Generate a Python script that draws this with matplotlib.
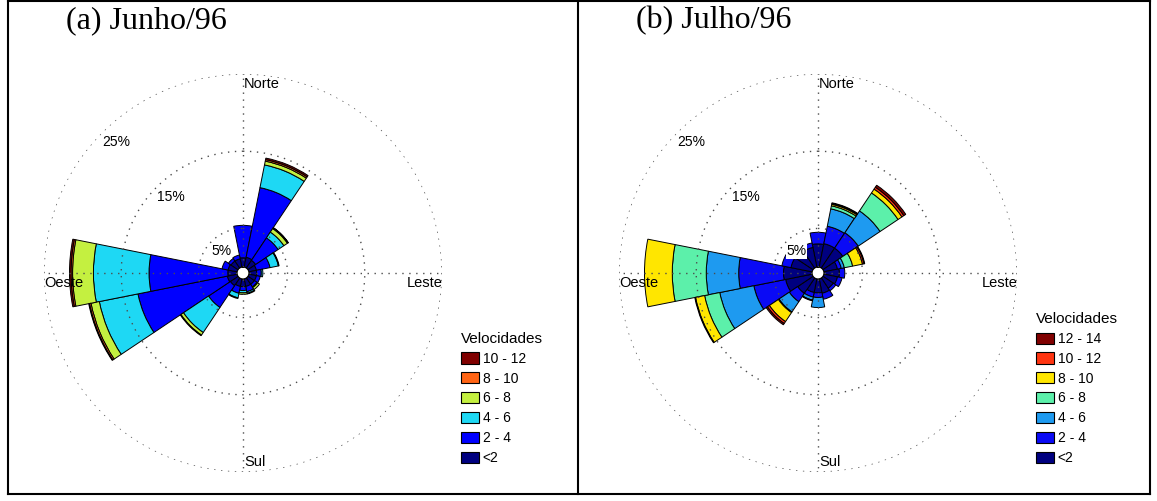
import numpy as np
import matplotlib
matplotlib.use("Agg")
import matplotlib.pyplot as plt
from matplotlib.lines import Line2D
from matplotlib.patches import Patch

plt.rcParams['font.family'] = ['Liberation Sans', 'DejaVu Sans']

# ---------------- data ----------------
directions = ['N', 'NNE', 'NE', 'ENE', 'E', 'ESE', 'SE', 'SSE',
              'S', 'SSW', 'SW', 'WSW', 'W', 'WNW', 'NW', 'NNW']
dir_deg = [0, 22.5, 45, 67.5, 90, 112.5, 135, 157.5,
           180, 202.5, 225, 247.5, 270, 292.5, 315, 337.5]

# (a) Junho/96 - frequency (%) per speed class and direction
jun_labels = ['<2', '2 - 4', '4 - 6', '6 - 8', '8 - 10', '10 - 12']
jun_lt2   = [1.2, 1.3, 1.2, 1.0, 1.0, 1.0, 1.0, 1.0, 1.0, 1.0, 1.2, 1.3, 1.2, 1.2, 1.1, 1.1]
jun_2_4   = [4.2, 9.2, 3.5, 1.8, 0.6, 0.5, 0.4, 0.7, 0.5, 0.9, 3.4, 11.8, 10.2, 0.8, 0.4, 0.5]
jun_4_6   = [0, 3.0, 0.9, 1.1, 0.2, 0, 0.1, 0.2, 0.3, 0.6, 3.9, 5.1, 7.2, 0, 0, 0]
jun_6_8   = [0, 0.5, 0.55, 0.1, 0, 0, 0.3, 0.1, 0.2, 0.1, 0.4, 1.1, 2.7, 0, 0, 0]
jun_8_10  = [0, 0.2, 0.1, 0, 0, 0, 0, 0, 0, 0, 0.1, 0.2, 0.2, 0, 0, 0]
jun_10_12 = [0, 0.2, 0.05, 0, 0, 0, 0, 0, 0, 0, 0, 0.1, 0.2, 0, 0, 0]
jun_colors = ['#000080', '#0000FF', '#1ED8F4', '#C4F040', '#FF6414', '#800000']

# (b) Julho/96
jul_labels = ['<2', '2 - 4', '4 - 6', '6 - 8', '8 - 10', '10 - 12', '12 - 14']
jul_lt2   = [3.0, 3.1, 3.1, 1.8, 2.0, 1.8, 1.6, 1.9, 1.8, 1.8, 2.4, 3.5, 3.7, 2.8, 2.5, 2.6]
jul_2_4   = [1.5, 2.3, 2.4, 0.5, 0.7, 0.6, 0.4, 0.8, 0.6, 0.6, 1.3, 4.2, 5.8, 1.2, 0.6, 0.6]
jul_4_6   = [0, 2.3, 3.4, 0.4, 0, 0, 0, 0, 1.3, 0.4, 1.6, 4.5, 4.2, 0, 0, 0]
jul_6_8   = [0, 0.4, 2.8, 1.1, 0, 0, 0, 0, 0, 0, 0.1, 2.0, 4.4, 0, 0, 0]
jul_8_10  = [0, 0.2, 0.6, 1.3, 0, 0, 0, 0, 0, 0, 1.4, 1.2, 3.6, 0, 0, 0]
jul_10_12 = [0, 0.1, 0.3, 0.2, 0, 0, 0, 0, 0, 0.1, 0.3, 0.1, 0, 0, 0, 0]
jul_12_14 = [0, 0.1, 0.3, 0.1, 0, 0, 0, 0, 0, 0, 0.2, 0, 0, 0, 0, 0]
jul_colors = ['#000080', '#0A0AF5', '#1E9AF0', '#5CF0AA', '#FFE600', '#FF3410', '#800000']

circle_levels = [5, 15, 25]
circle_labels = ['5%', '15%', '25%']
cardinal_labels = ['Norte', 'Leste', 'Sul', 'Oeste']

# ---------------- figure ----------------
W, H = 1157, 501
fig = plt.figure(figsize=(W / 100, H / 100), dpi=100)
fig.patch.set_facecolor('white')

R_PX = 199.0
RMAX = 25.0
RORIG = -0.77


def make_rose(cx, cy, series, colors, labels, title, title_x, leg_xy):
    ax = fig.add_axes([(cx - R_PX) / W, (H - cy - R_PX) / H, 2 * R_PX / W, 2 * R_PX / H],
                      projection='polar')
    ax.set_theta_zero_location('N')
    ax.set_theta_direction(-1)
    ax.set_ylim(0, RMAX)
    ax.set_rorigin(RORIG)
    ax.grid(False)
    ax.set_xticks([])
    ax.set_yticks([])
    for sp in ax.spines.values():
        sp.set_visible(False)
    ax.patch.set_visible(False)

    theta = np.deg2rad(dir_deg)
    width = np.deg2rad(22.5)
    bottom = np.zeros(len(theta))
    for vals, col in zip(series, colors):
        vals = np.asarray(vals, dtype=float)
        m = vals > 0
        ax.bar(theta[m], vals[m], width=width, bottom=bottom[m], color=col,
               edgecolor='black', linewidth=0.7, align='center', zorder=2)
        bottom = bottom + vals

    # dotted circles and crosshair
    tt = np.linspace(0, 2 * np.pi, 721)
    dot = dict(color='0.3', lw=1.0, ls=(0, (1, 4)), zorder=5)
    for r in circle_levels:
        ax.plot(tt, np.full_like(tt, r), **dot)
    for a in [0, 90, 180, 270]:
        ax.plot([np.deg2rad(a)] * 2, [0, RMAX], **dot)

    # percent labels (white background, as in the original)
    for r, lab in zip(circle_levels, circle_labels):
        ax.annotate(lab, xy=(np.deg2rad(315), r), xytext=(0, -3),
                    textcoords='offset pixels', ha='left', va='top',
                    fontsize=10, zorder=6, annotation_clip=False,
                    bbox=dict(boxstyle='square,pad=0.05', fc='white', ec='none'))
    # cardinal labels
    common = dict(textcoords='offset pixels', fontsize=10.5, zorder=6, annotation_clip=False)
    ax.annotate(cardinal_labels[0], xy=(0, RMAX), xytext=(1, -3),
                ha='left', va='top', **common)
    ax.annotate(cardinal_labels[1], xy=(np.pi / 2, RMAX), xytext=(1, -3),
                ha='right', va='top', **common)
    ax.annotate(cardinal_labels[2], xy=(np.pi, RMAX), xytext=(1, 3),
                ha='left', va='bottom', **common)
    ax.annotate(cardinal_labels[3], xy=(3 * np.pi / 2, RMAX), xytext=(0, -3),
                ha='left', va='top', **common)

    # legend
    handles = [Patch(facecolor=c, edgecolor='black', linewidth=0.8) for c in colors]
    ax.legend(handles[::-1], labels[::-1], loc='lower left',
              bbox_to_anchor=(leg_xy[0] / W, 1 - leg_xy[1] / H),
              bbox_transform=fig.transFigure, frameon=False, borderpad=0,
              borderaxespad=0, handlelength=1.3, handleheight=0.85,
              handletextpad=0.25, labelspacing=0.42, fontsize=10,
              title='Velocidades', title_fontsize=11, alignment='left')

    fig.text(title_x / W, 1 - 21 / H, title, family='Liberation Serif',
             fontsize=23, ha='left', va='center')
    return ax


make_rose(243, 273, [jun_lt2, jun_2_4, jun_4_6, jun_6_8, jun_8_10, jun_10_12],
          jun_colors, jun_labels, '(a) Junho/96', 66, (461, 465))
make_rose(818, 273, [jul_lt2, jul_2_4, jul_4_6, jul_6_8, jul_8_10, jul_10_12, jul_12_14],
          jul_colors, jul_labels, '(b) Julho/96', 636, (1036, 465))

# frame lines
def fline(x0, y0, x1, y1):
    fig.add_artist(Line2D([x0 / W, x1 / W], [1 - y0 / H, 1 - y1 / H],
                          transform=fig.transFigure, color='black', lw=1.5))

fline(8, 1, 1150, 1)
fline(8, 494, 1150, 494)
fline(8, 1, 8, 494)
fline(578, 1, 578, 494)
fline(1150, 1, 1150, 494)

fig.savefig('out.png', dpi=100, facecolor='white')
